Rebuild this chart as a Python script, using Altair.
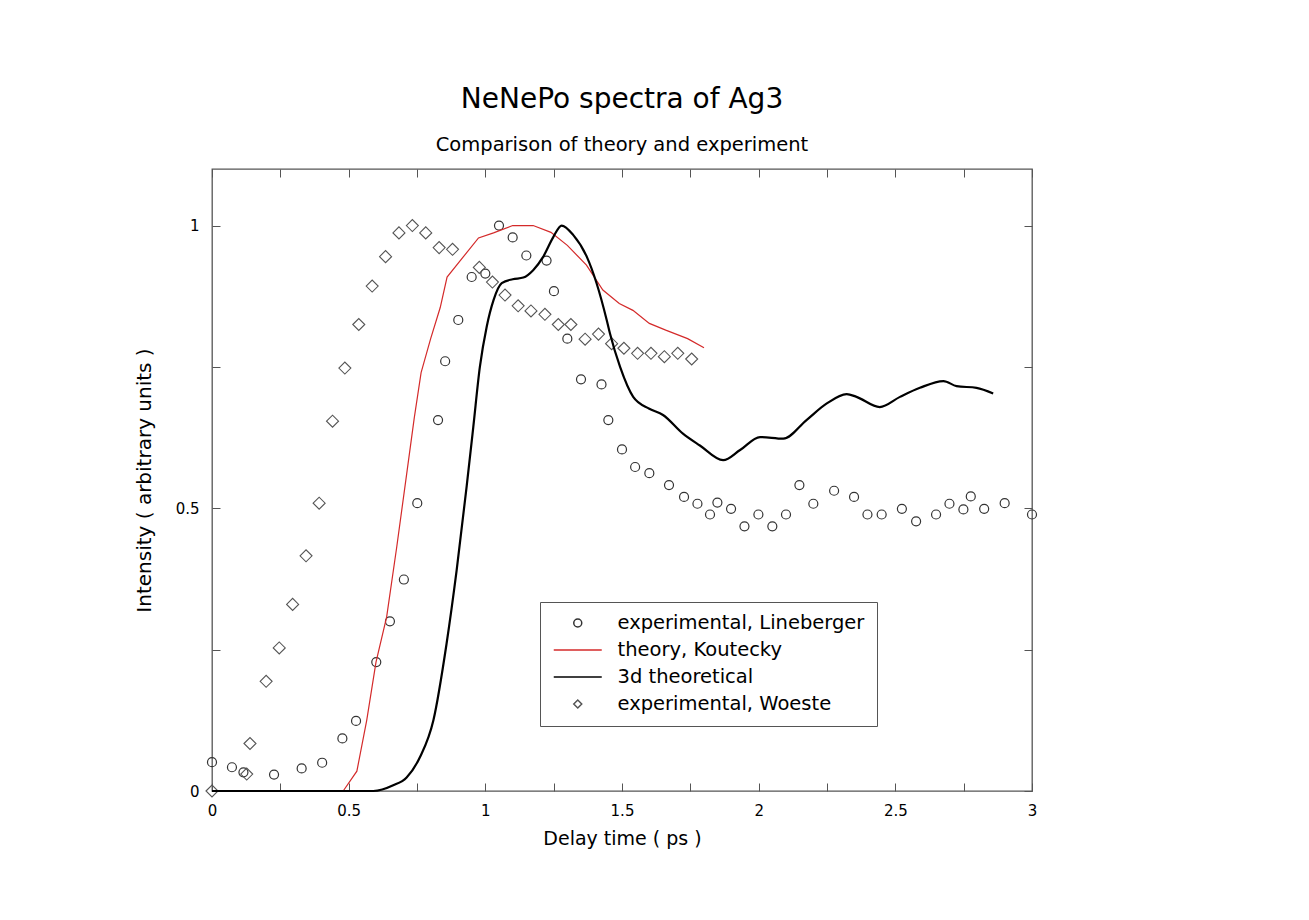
import altair as alt
import pandas as pd

FONT = "DejaVu Sans"

SERIES = ["experimental, Lineberger", "theory, Koutecky", "3d theoretical", "experimental, Woeste"]
COLORS = ["#333333", "#d42a2a", "#000000", "#555555"]
SHAPES = ["circle", "M-6,0H6", "M-6,0H6", "diamond"]

X_TICKS = [0, 0.25, 0.5, 0.75, 1, 1.25, 1.5, 1.75, 2, 2.25, 2.5, 2.75, 3]
X_LABELS = [0, 0.5, 1, 1.5, 2, 2.5, 3]
Y_TICKS = [0, 0.25, 0.5, 0.75, 1]
Y_LABELS = [0, 0.5, 1]

# experimental, Lineberger (circles)
lin_t = [0.0, 0.073, 0.115, 0.227, 0.328, 0.403, 0.477, 0.527, 0.601, 0.651, 0.702, 0.751,
         0.827, 0.853, 0.901, 0.95, 1.0, 1.05, 1.10, 1.15, 1.224, 1.251, 1.30, 1.35, 1.425,
         1.45, 1.50, 1.548, 1.60, 1.672, 1.727, 1.776, 1.822, 1.849, 1.899, 1.948, 1.999,
         2.05, 2.10, 2.149, 2.20, 2.276, 2.349, 2.398, 2.45, 2.524, 2.576, 2.649, 2.698,
         2.749, 2.776, 2.825, 2.90, 3.0]
lin_v = [0.051, 0.042, 0.033, 0.029, 0.040, 0.050, 0.093, 0.124, 0.228, 0.300, 0.374, 0.509,
         0.656, 0.760, 0.833, 0.909, 0.915, 1.0, 0.979, 0.947, 0.938, 0.884, 0.800, 0.728, 0.719,
         0.656, 0.604, 0.573, 0.562, 0.541, 0.520, 0.508, 0.489, 0.510, 0.499, 0.468, 0.489,
         0.468, 0.489, 0.541, 0.508, 0.531, 0.520, 0.489, 0.489, 0.499, 0.477, 0.489, 0.508,
         0.498, 0.521, 0.499, 0.509, 0.489]

# experimental, Woeste (diamonds)
woe_t = [0.0, 0.127, 0.139, 0.198, 0.246, 0.295, 0.344, 0.392, 0.441, 0.486, 0.537, 0.586,
         0.635, 0.684, 0.733, 0.782, 0.831, 0.880, 0.978, 1.026, 1.072, 1.12, 1.167, 1.218,
         1.267, 1.313, 1.365, 1.414, 1.462, 1.507, 1.557, 1.606, 1.655, 1.704, 1.755]
woe_v = [0.0, 0.030, 0.084, 0.194, 0.253, 0.330, 0.416, 0.509, 0.654, 0.748, 0.825, 0.893,
         0.945, 0.987, 1.0, 0.987, 0.961, 0.958, 0.926, 0.900, 0.877, 0.858, 0.849, 0.843,
         0.825, 0.825, 0.799, 0.808, 0.791, 0.783, 0.774, 0.774, 0.768, 0.774, 0.764]

# theory, Koutecky (red line)
kou_t = [0.0, 0.48, 0.53, 0.566, 0.60, 0.639, 0.676, 0.712, 0.74, 0.765, 0.80, 0.835, 0.86,
         0.92, 0.975, 1.03, 1.10, 1.175, 1.24, 1.30, 1.37, 1.43, 1.49, 1.54, 1.60, 1.66,
         1.74, 1.80]
kou_v = [0.0, 0.0, 0.035, 0.125, 0.228, 0.308, 0.432, 0.56, 0.66, 0.74, 0.80, 0.855, 0.909,
         0.945, 0.978, 0.987, 1.0, 1.0, 0.988, 0.965, 0.930, 0.886, 0.862, 0.850, 0.827, 0.815,
         0.800, 0.784]

# 3d theoretical (black line)
d3_t = [0.0, 0.59, 0.663, 0.712, 0.761, 0.81, 0.858, 0.895, 0.932, 0.956, 0.98, 1.005, 1.03,
        1.06, 1.10, 1.139, 1.175, 1.212, 1.249, 1.279, 1.322, 1.371, 1.407, 1.444, 1.456,
        1.493, 1.541, 1.60, 1.65, 1.723, 1.785, 1.87, 1.932, 2.005, 2.09, 2.175, 2.248,
        2.322, 2.358, 2.443, 2.517, 2.59, 2.676, 2.724, 2.797, 2.858]
d3_v = [0.0, 0.0, 0.010, 0.024, 0.060, 0.125, 0.260, 0.390, 0.540, 0.644, 0.750, 0.821, 0.868,
        0.898, 0.905, 0.908, 0.921, 0.945, 0.980, 1.0, 0.983, 0.945, 0.898, 0.833, 0.809,
        0.750, 0.697, 0.676, 0.665, 0.632, 0.611, 0.585, 0.603, 0.626, 0.623, 0.656, 0.685,
        0.702, 0.697, 0.679, 0.697, 0.713, 0.725, 0.716, 0.713, 0.703]

W, H = 820, 622

lin_df = pd.DataFrame({"t": lin_t, "v": lin_v, "series": SERIES[0]})
woe_df = pd.DataFrame({"t": woe_t, "v": woe_v, "series": SERIES[3]})
kou_df = pd.DataFrame({"t": kou_t, "v": kou_v, "series": SERIES[1]})
d3_df = pd.DataFrame({"t": d3_t, "v": d3_v, "series": SERIES[2]})

xs = alt.Scale(domain=[0, 3], nice=False, zero=False)
ys = alt.Scale(domain=[0, 1.1], nice=False, zero=False)

legend = alt.Legend(
    title=None, orient="none", legendX=328, legendY=433,
    strokeColor="#555555", fillColor="white", padding=12, rowPadding=7,
    labelFontSize=19.5, labelFont=FONT, labelColor="black", labelLimit=500,
    symbolSize=64, symbolStrokeWidth=1.5, symbolOffset=16, labelOffset=30,
    clipHeight=18,
)
color = alt.Color("series:N", scale=alt.Scale(domain=SERIES, range=COLORS), legend=legend)
shape = alt.Shape("series:N", scale=alt.Scale(domain=SERIES, range=SHAPES), legend=legend)

x_label_axis = alt.Axis(
    orient="bottom", values=X_LABELS, ticks=False, domain=False, grid=False,
    labelFontSize=15, labelFont=FONT, labelColor="black", labelPadding=12,
    labelFlush=False, labelOverlap=False, labelExpr="'' + datum.value",
    title="Delay time ( ps )", titleFontSize=19, titleFont=FONT,
    titleFontWeight="normal", titleColor="black", titlePadding=11,
)
y_label_axis = alt.Axis(
    orient="left", values=Y_LABELS, ticks=False, domain=False, grid=False,
    labelFontSize=15, labelFont=FONT, labelColor="black", labelPadding=13,
    labelFlush=False, labelOverlap=False, labelExpr="'' + datum.value",
    title="Intensity ( arbitrary units )", titleFontSize=20, titleFont=FONT,
    titleFontWeight="normal", titleColor="black", titlePadding=21,
)


def tick_axis(orient, offset, values):
    return alt.Axis(orient=orient, offset=offset, values=values, labels=False,
                    domain=False, grid=False, ticks=True, tickSize=8,
                    tickColor="#555555", tickWidth=1, title=None)


circles = alt.Chart(lin_df).mark_point(size=81, filled=False, strokeWidth=1.2, opacity=1).encode(
    x=alt.X("t:Q", scale=xs, axis=x_label_axis),
    y=alt.Y("v:Q", scale=ys, axis=y_label_axis),
    color=color, shape=shape,
)
diamonds = alt.Chart(woe_df).mark_point(size=144, filled=False, strokeWidth=1.1, opacity=1).encode(
    x=alt.X("t:Q", scale=xs, axis=None),
    y=alt.Y("v:Q", scale=ys, axis=None),
    color=color, shape=shape,
)
red = alt.Chart(kou_df).mark_line(strokeWidth=1.2).encode(
    x=alt.X("t:Q", scale=xs, axis=tick_axis("top", -H, X_TICKS)),
    y=alt.Y("v:Q", scale=ys, axis=tick_axis("right", -W, Y_TICKS)),
    color=color,
)
black = alt.Chart(d3_df).mark_line(strokeWidth=2.2, interpolate="monotone").encode(
    x=alt.X("t:Q", scale=xs, axis=tick_axis("bottom", -H, X_TICKS)),
    y=alt.Y("v:Q", scale=ys, axis=tick_axis("left", -W, Y_TICKS)),
    color=color,
)

chart = alt.layer(circles, diamonds, red, black).resolve_axis(
    x="independent", y="independent"
).properties(
    width=W, height=H,
    autosize=alt.AutoSizeParams(type="none"),
    padding={"left": 212, "top": 169, "right": 277, "bottom": 129},
    background="white",
    title=alt.TitleParams(
        text="NeNePo spectra of Ag3", subtitle="Comparison of theory and experiment",
        fontSize=28, subtitleFontSize=19.5, font=FONT, subtitleFont=FONT,
        fontWeight="normal", color="black", subtitleColor="black",
        anchor="middle", frame="group", offset=14, subtitlePadding=22,
    ),
).configure_view(stroke="#555555", strokeWidth=1.3)

chart.save("out.html", embed_options={"renderer": "svg", "actions": False})
